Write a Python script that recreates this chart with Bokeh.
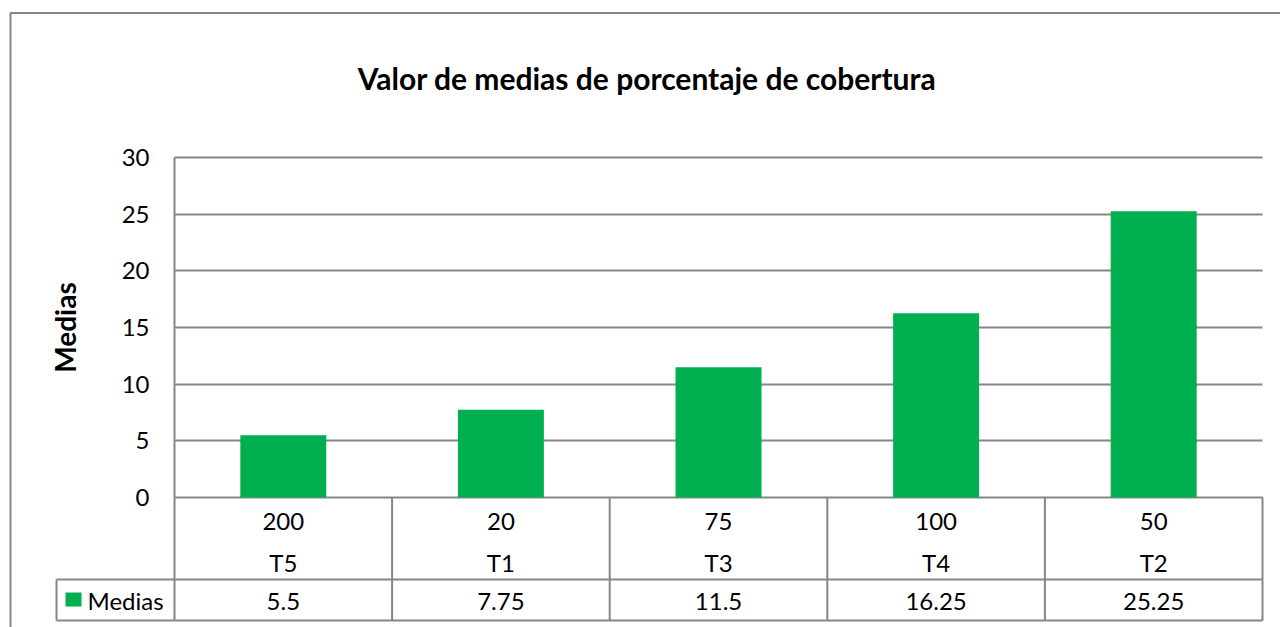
from bokeh.plotting import figure
from bokeh.models import Range1d, FixedTicker, ColumnDataSource
from bokeh.core.properties import value
from bokeh.embed import file_html
from bokeh.resources import INLINE

# ---- data ----
dosis = ["200", "20", "75", "100", "50"]
tratamientos = ["T5", "T1", "T3", "T4", "T2"]
medias = [5.5, 7.75, 11.5, 16.25, 25.25]
y_ticks = [0, 5, 10, 15, 20, 25, 30]
title_text = "Valor de medias de porcentaje de cobertura"
y_title = "Medias"
serie = "Medias"

GREEN = "#00B050"
GRAY = "#868686"
FONT = "Lato"

# ---- layout (canvas pixels) ----
W, H = 1280, 627
X0_PX, X1_PX = 174, 1262          # plot area left / right
Y0_PX, Y30_PX = 497, 157          # value 0 / value 30
n = len(medias)
PX_X = (X1_PX - X0_PX) / n
PX_Y = (Y0_PX - Y30_PX) / y_ticks[-1]


def dx(px):
    return (px - X0_PX) / PX_X


def dy(py):
    return (Y0_PX - py) / PX_Y


p = figure(width=W, height=H, output_backend="svg", toolbar_location=None,
           x_range=Range1d(dx(0), dx(W)), y_range=Range1d(dy(H), dy(0)),
           x_axis_location=None, min_border=0, tools="")
p.title.visible = False
p.outline_line_color = None
p.background_fill_color = "white"
p.border_fill_color = "white"
p.xgrid.visible = False

p.ygrid.ticker = FixedTicker(ticks=y_ticks)
p.ygrid.grid_line_color = GRAY
p.ygrid.grid_line_width = 2
p.ygrid.cross_bounds = (0, n)

ax = p.yaxis[0]
ax.fixed_location = 0
ax.bounds = (0, y_ticks[-1])
ax.ticker = FixedTicker(ticks=y_ticks)
ax.axis_line_color = GRAY
ax.axis_line_width = 2
ax.major_tick_line_color = None
ax.minor_tick_line_color = None
ax.major_label_text_font = FONT
ax.major_label_text_font_size = "24px"
ax.major_label_text_color = "black"
ax.major_label_standoff = 19
ax.axis_label = y_title
ax.axis_label_text_font = FONT
ax.axis_label_text_font_size = "28px"
ax.axis_label_text_font_style = "bold"
ax.axis_label_text_color = "black"
ax.axis_label_standoff = 37

xs = [i + 0.5 for i in range(n)]
src = ColumnDataSource(dict(x=xs, top=medias, dosis=dosis, trat=tratamientos,
                            lab=[str(v) for v in medias]))

p.vbar(x="x", top="top", bottom=0, width=0.395, source=src,
       fill_color=GREEN, line_color=None)

# ---- data table ----
row1_y = dy(579)
row2_y = dy(620)
leg_x = dx(56)
p.segment(x0=list(range(0, n + 1)), y0=[0] * (n + 1), x1=list(range(0, n + 1)),
          y1=[row2_y] * (n + 1), line_color=GRAY, line_width=2)
p.segment(x0=[leg_x, leg_x, leg_x], y0=[row1_y, row2_y, row1_y],
          x1=[n, n, leg_x], y1=[row1_y, row2_y, row2_y],
          line_color=GRAY, line_width=2)

for col, yy in (("dosis", 520.5), ("trat", 561.5), ("lab", 601)):
    p.text(x="x", y=dy(yy), text=col, source=src, text_align="center",
           text_baseline="middle", text_font=value(FONT), text_font_size="24px",
           text_color="black")

# legend key in the table
p.quad(left=[dx(65)], right=[dx(81)], top=[dy(592)], bottom=[dy(606)],
       fill_color=GREEN, line_color=None)
p.text(x=[dx(87)], y=[dy(600)], text=[serie], text_align="left",
       text_baseline="middle", text_font=value(FONT), text_font_size="24px",
       text_color="black")

# ---- title ----
p.text(x=[dx(646.5)], y=[dy(77)], text=[title_text], text_align="center",
       text_baseline="middle", text_font=value(FONT), text_font_size="30px",
       text_font_style="bold", text_color="black")

# ---- outer chart border ----
p.line(x=[dx(10), dx(10), dx(W + 10)], y=[dy(H + 10), dy(12.5), dy(12.5)],
       line_color=GRAY, line_width=2)

open("out.html", "w").write(file_html(p, INLINE))
